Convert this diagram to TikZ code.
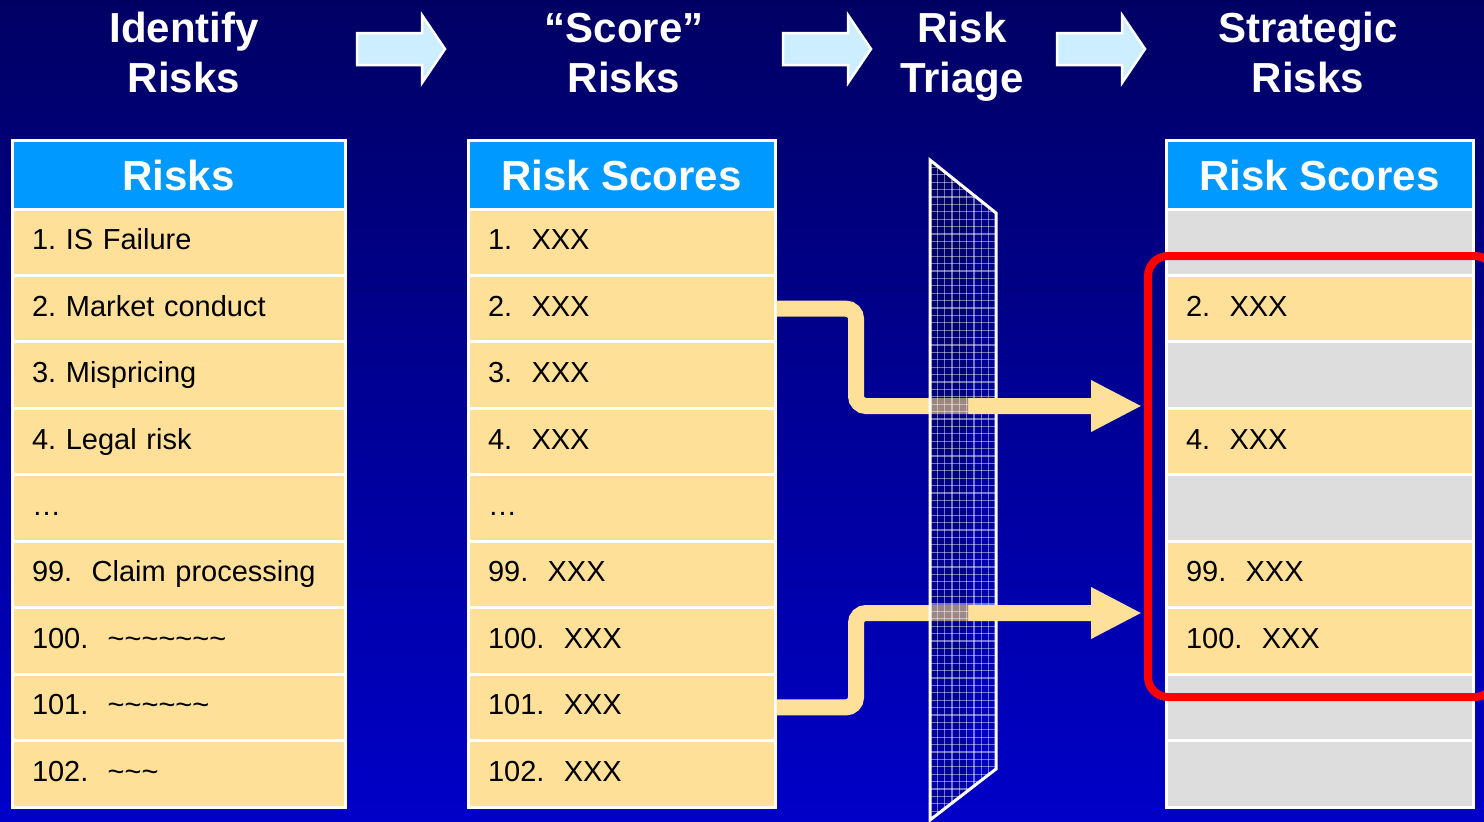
\documentclass[tikz,border=0pt]{standalone}
\usepackage{fontspec}
\setmainfont{Liberation Sans}
\usetikzlibrary{arrows.meta}
\definecolor{tanc}{RGB}{255,224,153}
\definecolor{grayc}{RGB}{221,221,221}
\definecolor{headc}{RGB}{0,153,255}
\definecolor{arrc}{RGB}{204,238,255}
\definecolor{bgtop}{RGB}{0,0,100}
\definecolor{bgbot}{RGB}{0,0,200}
\definecolor{hlred}{RGB}{255,0,0}
\newcommand\tld{\textasciitilde}
\frenchspacing
\begin{document}
\begin{tikzpicture}[x=1pt,y=-1pt,
  ttl/.style={anchor=base,text=white,inner sep=0pt,font=\bfseries\fontsize{42}{50}\selectfont},
  blockarrow/.style={fill=arrc,draw=white,line width=2.5pt,line join=miter},
  hdr/.style={draw=white,line width=3pt,fill=headc,text=white,inner sep=0pt,
    minimum height=69pt,text height=31pt,text depth=0pt,font=\bfseries\fontsize{42}{46}\selectfont},
  cell/.style={draw=white,line width=3pt,fill=tanc,inner xsep=20pt,inner ysep=0pt,
    minimum height=66.45pt,align=left,text height=21pt,text depth=6pt,font=\fontsize{29}{32}\selectfont},
  cellL/.style={cell,text width=293pt},
  cellM/.style={cell,text width=267pt},
  flow/.style={draw=tanc,line width=16pt,rounded corners=10pt,-{Triangle[length=51pt,width=48pt]}},
  gridline/.style={draw=white,draw opacity=0.45,line width=1.3pt},
  fborder/.style={draw=white,line width=3pt,line join=miter},
  hlbox/.style={draw=hlred,line width=8pt,rounded corners=20pt,inner sep=0pt,outer sep=0pt}
]
% background
\fill[top color=bgtop,bottom color=bgbot] (0,0) rectangle (1484,822);
\useasboundingbox (0,0) rectangle (1484,822);

% titles
\foreach \x/\a/\b/\n in {184/Identify/Risks/ti, 624/{“Score”}/Risks/ts, 962/Risk/Triage/tr, 1308/Strategic/Risks/tg} {
  \node[ttl] (\n1) at (\x,42) {\a};
  \node[ttl] (\n2) at (\x,92) {\b};
}

% top block arrows
\foreach \L in {357,783,1057} {
  \draw[blockarrow] (\L,33) -- ++(65,0) -- ++(0,-18) -- ++(23,34) -- ++(-23,34) -- ++(0,-18) -- ++(-65,0) -- cycle;
}

% left table
\node[hdr,minimum width=333pt] (L0) at (178.5,174.5) {Risks};
\foreach \t [count=\i] in {1. IS Failure, 2. Market conduct, 3. Mispricing, 4. Legal risk, …,
  99.\ \ Claim processing, 100.\ \ \tld\tld\tld\tld\tld\tld\tld, 101.\ \ \tld\tld\tld\tld\tld\tld, 102.\ \ \tld\tld\tld} {
  \node[cellL] (L\i) at (178.5,{209+66.45*(\i-0.5)}) {\t};
}

% middle table
\node[hdr,minimum width=307pt] (M0) at (621.5,174.5) {Risk Scores};
\foreach \t [count=\i] in {1.\ \ XXX, 2.\ \ XXX, 3.\ \ XXX, 4.\ \ XXX, …,
  99.\ \ XXX, 100.\ \ XXX, 101.\ \ XXX, 102.\ \ XXX} {
  \node[cellM] (M\i) at (621.5,{209+66.45*(\i-0.5)}) {\t};
}

% right table
\node[hdr,minimum width=307pt] (R0) at (1319.5,174.5) {Risk Scores};
\foreach \c/\t [count=\i] in {grayc/{}, tanc/{2.\ \ XXX}, grayc/{}, tanc/{4.\ \ XXX}, grayc/{},
  tanc/{99.\ \ XXX}, tanc/{100.\ \ XXX}, grayc/{}, grayc/{}} {
  \node[cellM,fill=\c] (R\i) at (1319.5,{209+66.45*(\i-0.5)}) {\t};
}

% filter shape corners
\coordinate (f1) at (930,160);
\coordinate (f2) at (996,213);
\coordinate (f3) at (996,769);
\coordinate (f4) at (930,820);

% filter, right part (under the arrows)
\begin{scope}
  \clip (968,100) rectangle (1010,830);
  \begin{scope}
    \clip (f1) -- (f2) -- (f3) -- (f4) -- cycle;
    \foreach \k in {1,...,8} { \draw[gridline] ({930+\k*7.35},150) -- ++(0,680); }
    \foreach \j in {0,...,90} { \draw[gridline] (920,{160+\j*7.4}) -- ++(85,0); }
  \end{scope}
  \draw[fborder] (f1) -- (f2) -- (f3) -- (f4) -- cycle;
\end{scope}

% flow arrows
\coordinate (k1) at (856,406);
\coordinate (k2) at (856,613);
\coordinate (h1) at (1142,406);
\coordinate (h2) at (1142,613);
\draw[flow] (M2.east) -| (k1) -- (h1);
\draw[flow] (M8.east) -| (k2) -- (h2);

% filter, left part (over the arrows)
\begin{scope}
  \clip (915,100) rectangle (968,830);
  \begin{scope}
    \clip (f1) -- (f2) -- (f3) -- (f4) -- cycle;
    \fill[top color=bgtop,bottom color=bgbot,fill opacity=0.22] (0,0) rectangle (1484,822);
    \foreach \k in {1,...,8} { \draw[gridline] ({930+\k*7.35},150) -- ++(0,680); }
    \foreach \j in {0,...,90} { \draw[gridline] (920,{160+\j*7.4}) -- ++(85,0); }
  \end{scope}
  \draw[fborder] (f1) -- (f2) -- (f3) -- (f4) -- cycle;
\end{scope}

% highlight box
\node[hlbox,minimum width=347pt,minimum height=441pt,anchor=north west] (hl) at (1148,256) {};
\end{tikzpicture}
\end{document}
